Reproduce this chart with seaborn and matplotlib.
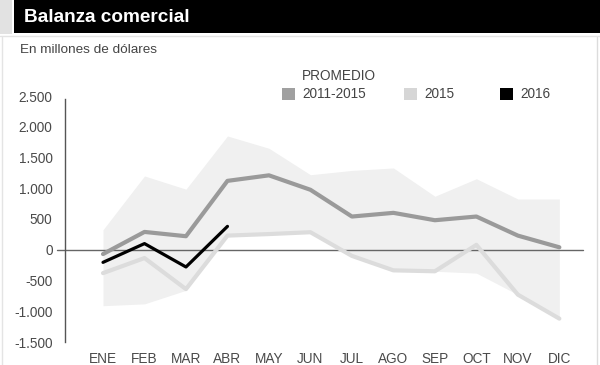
import numpy as np
import pandas as pd
import seaborn as sns
import matplotlib.pyplot as plt
from matplotlib.patches import Rectangle
from matplotlib.lines import Line2D

# Datos (millones de dólares)
meses = ["ENE", "FEB", "MAR", "ABR", "MAY", "JUN", "JUL", "AGO", "SEP", "OCT", "NOV", "DIC"]
promedio = [-70, 290, 220, 1120, 1210, 975, 540, 600, 480, 540, 230, 40]
serie_2015 = [-380, -135, -640, 230, 255, 285, -100, -335, -350, 80, -730, -1120]
serie_2016 = [-205, 100, -280, 380]
rango_max = [325, 1200, 985, 1850, 1650, 1220, 1290, 1330, 870, 1155, 825, 825]
rango_min = [-910, -880, -660, 230, 255, 285, -100, -335, -350, -380, -730, -1120]
yticks = [2500, 2000, 1500, 1000, 500, 0, -500, -1000, -1500]

df = pd.DataFrame({"x": np.arange(12), "mes": meses, "promedio": promedio, "s2015": serie_2015})
df16 = pd.DataFrame({"x": np.arange(len(serie_2016)), "s2016": serie_2016})

sns.set_theme(style="white")
plt.rcParams['font.family'] = ['Liberation Sans', 'DejaVu Sans']

fig = plt.figure(figsize=(6, 3.65), dpi=100)
fig.patch.set_facecolor("white")

# barra del título
fig.patches.append(Rectangle((14 / 600, 1 - 33 / 365), 1, 33 / 365, transform=fig.transFigure,
                             facecolor="black", edgecolor="none", zorder=0))
fig.patches.append(Rectangle((0, 1 - 34 / 365), 12 / 600, 34 / 365, transform=fig.transFigure,
                             facecolor="#e2e2e2", edgecolor="none", zorder=0))
fig.lines.append(Line2D([2 / 600, 2 / 600], [0, 1 - 37 / 365], transform=fig.transFigure, color="#e4e4e4", lw=1))
fig.lines.append(Line2D([597 / 600, 597 / 600], [0, 1 - 37 / 365], transform=fig.transFigure, color="#dcdcdc", lw=1))
fig.lines.append(Line2D([0, 1], [1 - 36 / 365, 1 - 36 / 365], transform=fig.transFigure, color="#e4e4e4", lw=1))
fig.text(24 / 600, 1 - 17 / 365, "Balanza comercial", color="white", fontsize=13.7, fontweight="bold", va="center")
fig.text(20 / 600, 1 - 50 / 365, "En millones de dólares", color="#444444", fontsize=9.7, va="center")

ax = fig.add_axes([65 / 600, 23 / 365, 518 / 600, 246 / 365])
ax.set_facecolor("white")

ax.fill_between(df["x"], rango_min, rango_max, color="#f0f0f0", lw=0, zorder=1)
ax.axhline(0, color="#666666", lw=1, xmin=-0.015, clip_on=False, zorder=2)
sns.lineplot(data=df, x="x", y="s2015", color="#dcdcdc", lw=3, ax=ax, zorder=3)
sns.lineplot(data=df, x="x", y="promedio", color="#9a9a9a", lw=3, ax=ax, zorder=4)
sns.lineplot(data=df16, x="x", y="s2016", color="black", lw=2.3, ax=ax, zorder=5)

ax.set_xlim(-0.916, 11.57)
ax.set_ylim(-1500, 2500)
ax.set_xticks(df["x"])
ax.set_xticklabels(meses)
ax.set_yticks(yticks)
ax.set_yticklabels([f"{v:,}".replace(",", ".") for v in yticks])
ax.tick_params(axis="both", length=0, labelsize=9.8, labelcolor="#4a4a4a")
ax.tick_params(axis="y", pad=9)
ax.tick_params(axis="x", pad=7)
ax.set_xlabel("")
ax.set_ylabel("")
for s in ["top", "right", "bottom"]:
    ax.spines[s].set_visible(False)
ax.spines["left"].set_color("#555555")
ax.spines["left"].set_linewidth(1)
ax.spines["left"].set_bounds(-1500, 2450)

# leyenda manual
items = [(282, "#a0a0a0", "2011-2015"), (404, "#d6d6d6", "2015"), (500, "black", "2016")]
for x0, c, lab in items:
    fig.patches.append(Rectangle((x0 / 600, 1 - 100 / 365), 13 / 600, 12 / 365, transform=fig.transFigure,
                                 facecolor=c, edgecolor="none"))
    fig.text((x0 + 20) / 600, 1 - 94 / 365, lab, color="#444444", fontsize=9.8, va="center")
fig.text(302 / 600, 1 - 76 / 365, "PROMEDIO", color="#444444", fontsize=9.8, va="center")

plt.savefig("out.png", dpi=100)
